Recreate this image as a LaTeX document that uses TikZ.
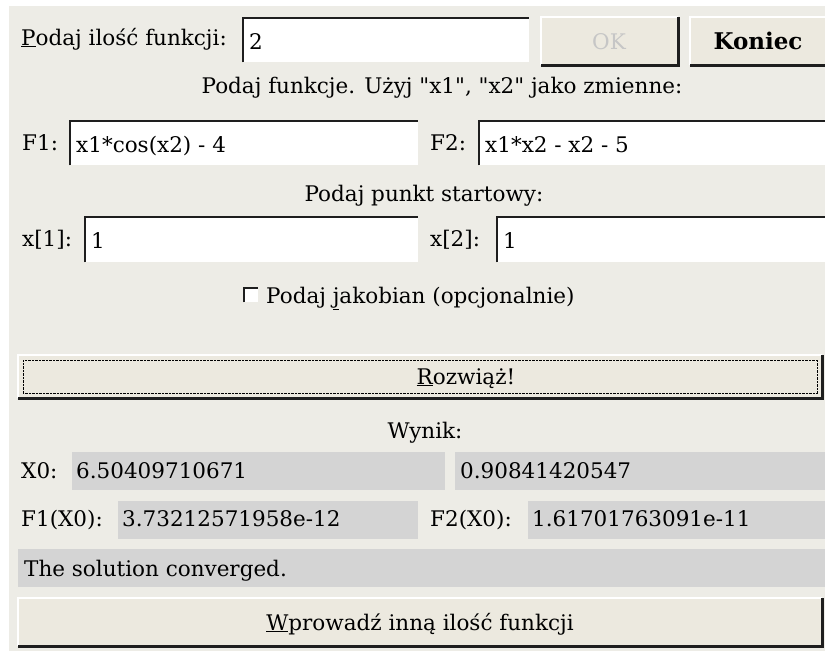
\documentclass[tikz,border=0pt]{standalone}
\usepackage{fontspec}
\setmainfont{DejaVu Serif}
\definecolor{winbg}{HTML}{EDECE6}
\definecolor{btnbg}{HTML}{ECE9DF}
\definecolor{outbg}{HTML}{D4D4D4}
\definecolor{edgedark}{HTML}{1E1E1E}
\definecolor{dimtext}{HTML}{C6C6C6}
\newcommand{\guisize}{\fontsize{21.5}{26}\selectfont}
\tikzset{
  txt/.style={inner sep=0pt,anchor=base west,font=\guisize},
  ctxt/.style={inner sep=0pt,anchor=base,font=\guisize},
  entry/.style={fill=white,inner sep=0pt,anchor=north west},
  button/.style={fill=btnbg,inner sep=0pt,anchor=north west},
  outfield/.style={fill=outbg,inner sep=0pt,anchor=north west},
}
\begin{document}
\begin{tikzpicture}[x=1pt,y=-1pt]
\clip (0,0) rectangle (825,651);

% Window background
\fill[white] (0,0) rectangle (825,651);
\fill[winbg] (9,6) rectangle (825,651);

% Number of functions, OK and Koniec
\node[txt] (cntlbl) at (21,45) {\underline{P}odaj ilość funkcji:};
\node[entry,minimum width=286pt,minimum height=44pt] (cntbox) at (243,18) {};
\draw[edgedark,line width=2.5pt] (cntbox.south west) -- (cntbox.north west) -- (cntbox.north east);
\node[txt] (cntval) at (249,49) {2};
\node[button,minimum width=137pt,minimum height=48pt] (okbtn) at (541,17) {};
\draw[white,line width=2pt] (okbtn.south west) -- (okbtn.north west) -- (okbtn.north east);
\draw[edgedark,line width=2.5pt] (okbtn.north east) -- (okbtn.south east) -- (okbtn.south west);
\node[ctxt,text=dimtext] (oktxt) at (609,49) {OK};
\node[button,minimum width=140pt,minimum height=48pt] (endbtn) at (690,17) {};
\draw[white,line width=2pt] (endbtn.south west) -- (endbtn.north west) -- (endbtn.north east);
\draw[edgedark,line width=2.5pt] (endbtn.north east) -- (endbtn.south east) -- (endbtn.south west);
\node[ctxt,font=\fontsize{23}{27}\selectfont\bfseries] (endtxt) at (758,49) {Koniec};

% Functions F1 and F2
\node[ctxt] (fnhdr) at (442,93) {Podaj funkcje. Użyj \textquotedbl x1\textquotedbl, \textquotedbl x2\textquotedbl\ jako zmienne:};
\node[txt] (f1lbl) at (22,150) {F1:};
\node[entry,minimum width=348pt,minimum height=44pt] (f1box) at (70,121) {};
\draw[edgedark,line width=2.5pt] (f1box.south west) -- (f1box.north west) -- (f1box.north east);
\node[txt] (f1val) at (76,152) {x1*cos(x2) - 4};
\node[txt] (f2lbl) at (430,150) {F2:};
\node[entry,minimum width=350pt,minimum height=44pt] (f2box) at (479,121) {};
\draw[edgedark,line width=2.5pt] (f2box.south west) -- (f2box.north west) -- (f2box.north east);
\node[txt] (f2val) at (485,152) {x1*x2 - x2 - 5};

% Starting point
\node[ctxt] (starthdr) at (424,201) {Podaj punkt startowy:};
\node[txt] (x1lbl) at (22,246) {x[1]:};
\node[entry,minimum width=333pt,minimum height=45pt] (x1box) at (85,217) {};
\draw[edgedark,line width=2.5pt] (x1box.south west) -- (x1box.north west) -- (x1box.north east);
\node[txt] (x1val) at (91,248) {1};
\node[txt] (x2lbl) at (430,246) {x[2]:};
\node[entry,minimum width=335pt,minimum height=45pt] (x2box) at (497,217) {};
\draw[edgedark,line width=2.5pt] (x2box.south west) -- (x2box.north west) -- (x2box.north east);
\node[txt] (x2val) at (503,248) {1};

% Jacobian checkbox
\node[entry,minimum size=14pt] (jacbox) at (244,288) {};
\draw[edgedark,line width=2pt] (jacbox.south west) -- (jacbox.north west) -- (jacbox.north east);
\node[txt] (jaclbl) at (266,303) {Podaj \underline{j}akobian (opcjonalnie)};

% Solve button
\node[button,minimum width=804pt,minimum height=43pt] (solvebtn) at (18,355) {};
\draw[white,line width=2pt] (solvebtn.south west) -- (solvebtn.north west) -- (solvebtn.north east);
\draw[edgedark,line width=2.5pt] (solvebtn.north east) -- (solvebtn.south east) -- (solvebtn.south west);
\draw[densely dotted] ([shift={(5,5)}]solvebtn.north west) rectangle ([shift={(-5,-5)}]solvebtn.south east);
\node[ctxt] (solvetxt) at (466,384) {\underline{R}ozwiąż!};

% Results
\node[ctxt] (reshdr) at (425,438) {Wynik:};
\node[txt] (x0lbl) at (21,478) {X0:};
\node[outfield,minimum width=373pt,minimum height=38pt] (x0abox) at (72,452) {};
\node[txt] (x0aval) at (76,478) {6.50409710671};
\node[outfield,minimum width=375pt,minimum height=38pt] (x0bbox) at (455,452) {};
\node[txt] (x0bval) at (460,478) {0.90841420547};
\node[txt] (fx1lbl) at (21,526) {F1(X0):};
\node[outfield,minimum width=300pt,minimum height=38pt] (fx1box) at (118,501) {};
\node[txt] (fx1val) at (122,526) {3.73212571958e-12};
\node[txt] (fx2lbl) at (430,526) {F2(X0):};
\node[outfield,minimum width=300pt,minimum height=38pt] (fx2box) at (528,501) {};
\node[txt] (fx2val) at (532,526) {1.61701763091e-11};
\node[outfield,minimum width=812pt,minimum height=38pt] (msgbox) at (18,549) {};
\node[txt] (msgtxt) at (24,576) {The solution converged.};

% Back to number of functions
\node[button,minimum width=804pt,minimum height=48pt] (backbtn) at (18,598) {};
\draw[white,line width=2pt] (backbtn.south west) -- (backbtn.north west) -- (backbtn.north east);
\draw[edgedark,line width=2.5pt] (backbtn.north east) -- (backbtn.south east) -- (backbtn.south west);
\node[ctxt] (backtxt) at (420,630) {\underline{W}prowadź inną ilość funkcji};

\end{tikzpicture}
\end{document}
